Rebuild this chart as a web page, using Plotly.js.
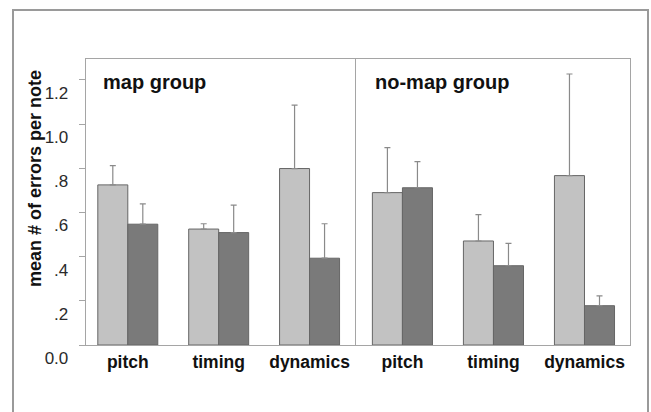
<!DOCTYPE html>
<html>
<head>
<meta charset="utf-8">
<script src="https://cdn.plot.ly/plotly-3.0.1.min.js"></script>
<style>html,body{margin:0;padding:0;background:#fff;}#chart{width:651px;height:412px;}</style>
</head>
<body>
<div id="chart"></div>
<script>
// Data
const categories = ['pitch', 'timing', 'dynamics'];
const mapLight = [0.725, 0.525, 0.799];
const mapLightErr = [0.087, 0.024, 0.287];
const mapDark = [0.547, 0.509, 0.393];
const mapDarkErr = [0.092, 0.124, 0.156];
const noMapLight = [0.690, 0.471, 0.767];
const noMapLightErr = [0.204, 0.119, 0.460];
const noMapDark = [0.712, 0.359, 0.178];
const noMapDarkErr = [0.118, 0.101, 0.044];
const yTickVals = [0, 0.2, 0.4, 0.6, 0.8, 1.0, 1.2];
const yTickText = ['0.0', '.2', '.4', '.6', '.8', '1.0', '1.2'];
const panelTitles = ['map group', 'no-map group'];
const yTitle = 'mean # of errors per note';

const lightCol = '#c2c2c2', darkCol = '#7a7a7a', edgeCol = '#666666', errCol = '#8a8a8a';
const zeros = categories.map(() => 0);

function barTrace(y, err, col, xa, ya) {
  return {
    type: 'bar', x: categories, y: y, xaxis: xa, yaxis: ya,
    marker: {color: col, line: {color: edgeCol, width: 1}},
    error_y: {type: 'data', symmetric: false, array: err, arrayminus: zeros,
              color: errCol, thickness: 1.2, width: 3},
    showlegend: false, hoverinfo: 'skip'
  };
}

const data = [
  barTrace(mapLight, mapLightErr, lightCol, 'x', 'y'),
  barTrace(mapDark, mapDarkErr, darkCol, 'x', 'y'),
  barTrace(noMapLight, noMapLightErr, lightCol, 'x2', 'y2'),
  barTrace(noMapDark, noMapDarkErr, darkCol, 'x2', 'y2')
];

const W = 651, H = 412, L = 86, R = 21, T = 59, B = 67;
const pw = W - L - R, ph = H - T - B;
const px = v => (v - L) / pw;
const py = v => (H - B - v) / ph;

const lineCol = '#a5a5a5';
const font = 'Liberation Sans, Arial, sans-serif';
const xTickFont = {family: font, size: 17.5, color: '#111', weight: 'bold'};

const layout = {
  width: W, height: H,
  margin: {l: L, r: R, t: T, b: B},
  paper_bgcolor: '#fff', plot_bgcolor: '#fff',
  barmode: 'group', bargap: 0.34, bargroupgap: 0,
  font: {family: font},
  xaxis: {domain: [0, px(355)], range: [-0.46, 2.5], anchor: 'y',
          showline: true, mirror: true, linecolor: lineCol, linewidth: 1.3,
          ticks: '', showgrid: false, tickfont: xTickFont, ticklabelstandoff: 1, fixedrange: true},
  xaxis2: {domain: [px(356), 1], range: [-0.51, 2.5], anchor: 'y2',
           showline: true, mirror: true, linecolor: lineCol, linewidth: 1.3,
           ticks: '', showgrid: false, tickfont: xTickFont, ticklabelstandoff: 1, fixedrange: true},
  yaxis: {range: [0, 1.295], anchor: 'x', tickvals: yTickVals, ticktext: yTickText,
          showline: true, mirror: true, linecolor: lineCol, linewidth: 1.3,
          ticks: 'outside', ticklen: 6, tickcolor: lineCol, showgrid: false, zeroline: false,
          tickfont: {family: font, size: 17, color: '#2a2a2a'}, ticklabelshift: 13, ticklabelstandoff: 7,
          fixedrange: true},
  yaxis2: {range: [0, 1.295], anchor: 'x2', showticklabels: false,
           showline: true, mirror: true, linecolor: lineCol, linewidth: 1.3,
           ticks: '', showgrid: false, zeroline: false, fixedrange: true},
  annotations: [
    {text: panelTitles[0], xref: 'paper', yref: 'paper', x: px(101), y: py(82),
     xanchor: 'left', yanchor: 'middle', showarrow: false,
     font: {family: font, size: 20, color: '#111', weight: 'bold'}},
    {text: panelTitles[1], xref: 'paper', yref: 'paper', x: px(373), y: py(82),
     xanchor: 'left', yanchor: 'middle', showarrow: false,
     font: {family: font, size: 20, color: '#111', weight: 'bold'}},
    {text: yTitle, xref: 'paper', yref: 'paper', x: px(35), y: py(179),
     xanchor: 'center', yanchor: 'middle', textangle: -90, showarrow: false,
     font: {family: font, size: 18, color: '#111', weight: 'bold'}}
  ],
  shapes: [
    {type: 'rect', xref: 'paper', yref: 'paper', x0: px(13), x1: px(648), y0: py(430), y1: py(10),
     line: {color: '#9a9a9a', width: 2}, fillcolor: 'rgba(0,0,0,0)', layer: 'below'}
  ]
};

Plotly.newPlot('chart', data, layout, {displayModeBar: false, staticPlot: true});
</script>
</body>
</html>
